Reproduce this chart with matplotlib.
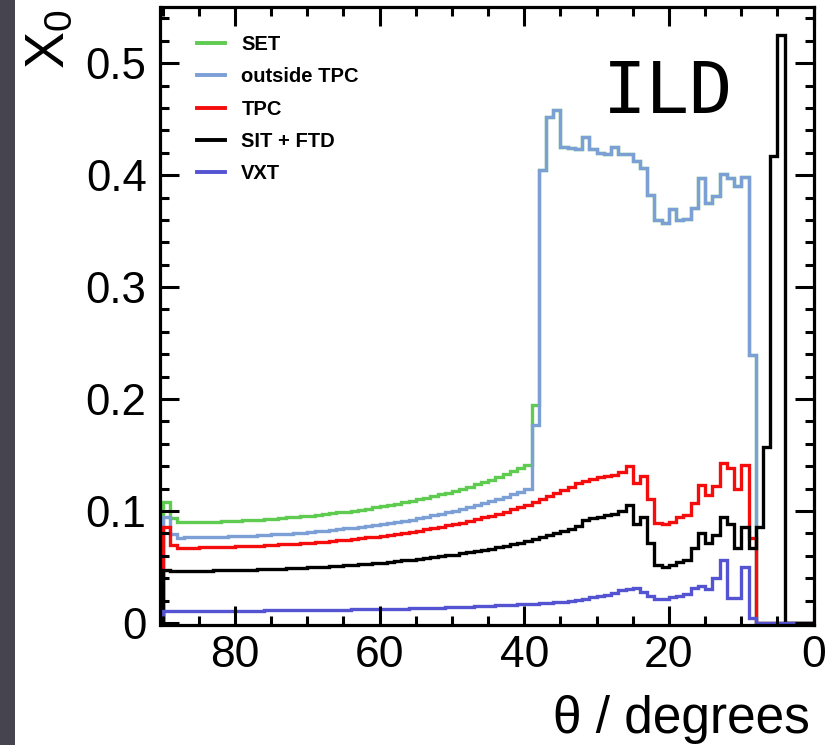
import matplotlib
matplotlib.use("Agg")
import matplotlib.pyplot as plt
from matplotlib.lines import Line2D
from matplotlib.patches import Rectangle
from matplotlib.ticker import FixedLocator, FixedFormatter, MultipleLocator

plt.rcParams['font.family'] = ['Liberation Sans', 'DejaVu Sans']
plt.rcParams['mathtext.default'] = 'regular'

# ---------------- data (bin k covers theta in [k, k+1] degrees) ----------------
theta_edges = list(range(0, 91))

outside_tpc = ([0, 0, 0, 0, 0, 0, 0, 0,
                0.239, 0.398, 0.390, 0.397, 0.401, 0.381, 0.375, 0.397, 0.371, 0.361,
                0.360, 0.370, 0.3575, 0.360, 0.382, 0.406, 0.413, 0.419, 0.419, 0.425,
                0.419, 0.420, 0.423, 0.434, 0.423, 0.424, 0.425, 0.458, 0.452, 0.405,
                0.177]
               + [0.1198, 0.1173, 0.1150, 0.1128, 0.1107, 0.1087, 0.1068, 0.1051, 0.1033,
                  0.1017, 0.1002, 0.0988, 0.0974, 0.0960, 0.0948, 0.0936, 0.0924, 0.0914,
                  0.0904, 0.0894, 0.0885, 0.0876, 0.0867, 0.0859, 0.0851, 0.0844, 0.0837,
                  0.0831, 0.0824, 0.0819, 0.0814, 0.0808, 0.0804, 0.0799, 0.0795, 0.0791,
                  0.0787, 0.0783, 0.0780, 0.0778, 0.0775, 0.0773, 0.0770, 0.0769, 0.0767,
                  0.0766, 0.0764, 0.0764, 0.0763]
               + [0.0795, 0.095])

set_layer = (outside_tpc[:38]
             + [0.195]
             + [0.1412, 0.1383, 0.1355, 0.1329, 0.1305, 0.1281, 0.1259, 0.1238, 0.1218,
                0.1199, 0.1181, 0.1164, 0.1148, 0.1131, 0.1117, 0.1103, 0.1089, 0.1077,
                0.1065, 0.1053, 0.1043, 0.1032, 0.1022, 0.1012, 0.1003, 0.0995, 0.0987,
                0.0979, 0.0972, 0.0965, 0.0959, 0.0953, 0.0947, 0.0942, 0.0937, 0.0932,
                0.0928, 0.0923, 0.0920, 0.0917, 0.0913, 0.0911, 0.0908, 0.0906, 0.0903,
                0.0902, 0.0901, 0.0900, 0.0899]
             + [0.094, 0.108])

tpc = ([0, 0, 0, 0, 0, 0, 0, 0,
        0.076, 0.141, 0.120, 0.138, 0.1426, 0.122, 0.114, 0.123, 0.107, 0.0964,
        0.0944, 0.0905, 0.0884, 0.0896, 0.111, 0.131, 0.1247, 0.140, 0.135, 0.132,
        0.131, 0.130, 0.129, 0.127]
       + [0.1251, 0.1218, 0.1187, 0.1157, 0.1130, 0.1104, 0.1079, 0.1056, 0.1035,
          0.1014, 0.0995, 0.0976, 0.0959, 0.0942, 0.0927, 0.0911, 0.0897, 0.0884,
          0.0871, 0.0859, 0.0847, 0.0836, 0.0825, 0.0815, 0.0806, 0.0797, 0.0788,
          0.0780, 0.0772, 0.0765, 0.0757, 0.0751, 0.0745, 0.0739, 0.0732, 0.0727,
          0.0722, 0.0718, 0.0713, 0.0709, 0.0705, 0.0701, 0.0698, 0.0694, 0.0691,
          0.0688, 0.0686, 0.0683, 0.0681, 0.0679, 0.0678, 0.0676, 0.0675, 0.0674,
          0.0673, 0.0673]
       + [0.0696, 0.0854])

sit_ftd = ([0, 0, 0, 0,
            0.525, 0.417, 0.157, 0.086, 0.0667, 0.086, 0.0667, 0.0884, 0.0949, 0.0786,
            0.071, 0.0806, 0.0667, 0.0563, 0.0548, 0.0518, 0.0503, 0.0518, 0.0717,
            0.0949, 0.0884, 0.105, 0.100, 0.097, 0.096, 0.095, 0.094, 0.092]
           + [0.0865, 0.0843, 0.0821, 0.0801, 0.0782, 0.0764, 0.0747, 0.0731, 0.0716,
              0.0702, 0.0688, 0.0676, 0.0664, 0.0652, 0.0641, 0.0631, 0.0621, 0.0611,
              0.0603, 0.0594, 0.0586, 0.0578, 0.0571, 0.0564, 0.0558, 0.0551, 0.0545,
              0.0540, 0.0534, 0.0529, 0.0524, 0.0519, 0.0515, 0.0511, 0.0507, 0.0503,
              0.0500, 0.0497, 0.0493, 0.0491, 0.0488, 0.0485, 0.0483, 0.0480, 0.0478,
              0.0476, 0.0475, 0.0473, 0.0472, 0.0470, 0.0469, 0.0468, 0.0467, 0.0466,
              0.0466, 0.0465, 0.0465, 0.0470])

vxt = ([0, 0, 0, 0, 0, 0, 0, 0,
        0.004, 0.050, 0.022, 0.022, 0.056, 0.040, 0.030, 0.033, 0.031, 0.026,
        0.0245, 0.023, 0.021, 0.021, 0.0245, 0.028, 0.031, 0.030, 0.029, 0.027,
        0.025, 0.024, 0.023, 0.0215]
       + [0.0201, 0.0196, 0.0191, 0.0186, 0.0182, 0.0177, 0.0173, 0.0170, 0.0166,
          0.0163, 0.0160, 0.0157, 0.0154, 0.0151, 0.0149, 0.0146, 0.0144, 0.0142,
          0.0140, 0.0138, 0.0136, 0.0134, 0.0133, 0.0131, 0.0129, 0.0128, 0.0127,
          0.0125, 0.0124, 0.0123, 0.0122, 0.0121, 0.0120, 0.0119, 0.0118, 0.0117,
          0.0116, 0.0115, 0.0115, 0.0114, 0.0113, 0.0113, 0.0112, 0.0112, 0.0111,
          0.0111, 0.0110, 0.0110, 0.0110, 0.0109, 0.0109, 0.0109, 0.0109, 0.0108,
          0.0108, 0.0108, 0.0108, 0.0108])

series_labels = ['SET', 'outside TPC', 'TPC', 'SIT + FTD', 'VXT']
series_values = [set_layer, outside_tpc, tpc, sit_ftd, vxt]
series_colors = ['#5fcb50', '#7c9fd6', '#f50d0d', '#000000', '#5454d2']

x_ticks = [0, 20, 40, 60, 80]
x_ticklabels = ['0', '20', '40', '60', '80']
y_ticks = [0, 0.1, 0.2, 0.3, 0.4, 0.5]
y_ticklabels = ['0', '0.1', '0.2', '0.3', '0.4', '0.5']

# ---------------- figure ----------------
W, H = 837, 745
fig = plt.figure(figsize=(W / 100, H / 100), dpi=100)
fig.patch.set_facecolor('white')
fig.add_artist(Rectangle((0, 0), 15 / W, 1, transform=fig.transFigure,
                         facecolor='#46444f', edgecolor='none', zorder=0))

ax = fig.add_axes([160.5 / W, 1 - 625.2 / H, 653.1 / W, 618 / H])

for vals, col, lab in zip(series_values, series_colors, series_labels):
    ax.stairs(vals, theta_edges, baseline=0, color=col, lw=2.4, label=lab)

ax.set_xlim(90.3, 0)
ax.set_ylim(-0.002, 0.55)

ax.xaxis.set_major_locator(FixedLocator(x_ticks))
ax.xaxis.set_major_formatter(FixedFormatter(x_ticklabels))
ax.xaxis.set_minor_locator(MultipleLocator(5))
ax.yaxis.set_major_locator(FixedLocator(y_ticks))
ax.yaxis.set_major_formatter(FixedFormatter(y_ticklabels))
ax.yaxis.set_minor_locator(MultipleLocator(0.02))

ax.tick_params(which='both', direction='in', top=True, right=True, width=2.2)
ax.tick_params(which='major', length=13.5)
ax.tick_params(which='minor', length=6.5)
ax.tick_params(axis='x', which='major', labelsize=32, pad=7)
ax.tick_params(axis='y', which='major', labelsize=31.5, pad=10)
for sp in ax.spines.values():
    sp.set_linewidth(2.3)

handles = [Line2D([], [], color=c, lw=2.8) for c in series_colors]
ax.legend(handles, series_labels, loc='upper left', bbox_to_anchor=(0.0559, 0.955),
          frameon=False, prop={'weight': 'bold', 'size': 14.5},
          handlelength=1.4, handletextpad=0.8, labelspacing=0.66,
          borderpad=0, borderaxespad=0)

fig.text(603 / W, 1 - 113 / H, 'ILD', family='DejaVu Sans Mono', fontsize=52,
         ha='left', va='baseline')
fig.text(810 / W, 1 - 733 / H, 'θ / degrees', fontsize=37, ha='right', va='baseline')
fig.text(24 / W, 1 - 9 / H, r'X$_0$', rotation=90, fontsize=40, ha='left', va='top')

fig.savefig('out.png', dpi=100)
